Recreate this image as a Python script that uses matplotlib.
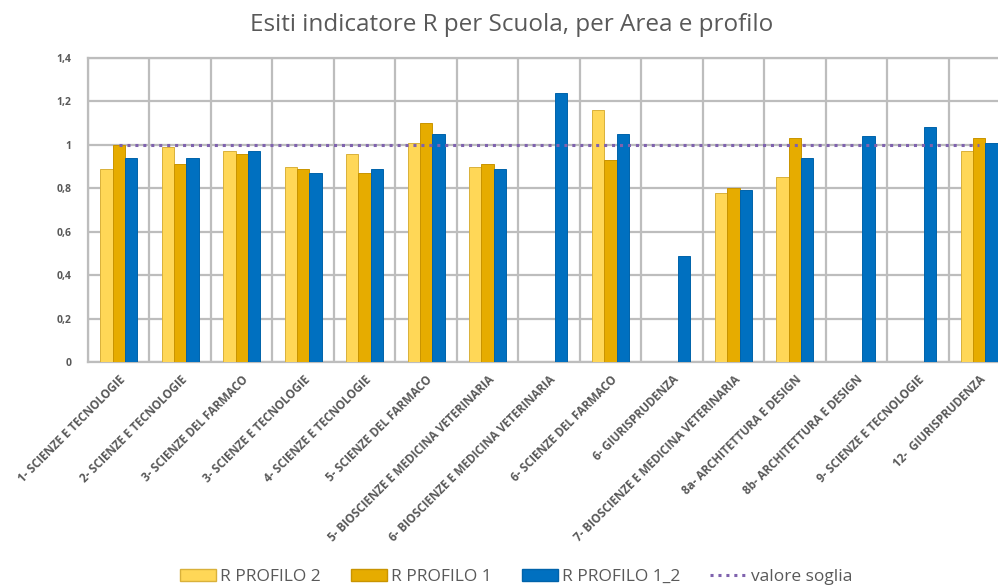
import numpy as np
import matplotlib
matplotlib.use("Agg")
import matplotlib.pyplot as plt
from matplotlib.lines import Line2D
from matplotlib.patches import Patch

categories = [
    "1- SCIENZE E TECNOLOGIE",
    "2- SCIENZE E TECNOLOGIE",
    "3- SCIENZE DEL FARMACO",
    "3- SCIENZE E TECNOLOGIE",
    "4- SCIENZE E TECNOLOGIE",
    "5- SCIENZE DEL FARMACO",
    "5- BIOSCIENZE E MEDICINA VETERINARIA",
    "6- BIOSCIENZE E MEDICINA VETERINARIA",
    "6- SCIENZE DEL FARMACO",
    "6- GIURISPRUDENZA",
    "7- BIOSCIENZE E MEDICINA VETERINARIA",
    "8a- ARCHITETTURA E DESIGN",
    "8b- ARCHITETTURA E DESIGN",
    "9- SCIENZE E TECNOLOGIE",
    "12-  GIURISPRUDENZA",
]
nan = np.nan
r_profilo_2 = [0.89, 0.99, 0.97, 0.90, 0.96, 1.01, 0.90, nan, 1.16, nan, 0.78, 0.85, nan, nan, 0.97]
r_profilo_1 = [1.00, 0.91, 0.96, 0.89, 0.87, 1.10, 0.91, nan, 0.93, nan, 0.80, 1.03, nan, nan, 1.03]
r_profilo_1_2 = [0.94, 0.94, 0.97, 0.87, 0.89, 1.05, 0.89, 1.24, 1.05, 0.49, 0.79, 0.94, 1.04, 1.08, 1.01]
valore_soglia = [1.0] * len(categories)
y_ticks = [0, 0.2, 0.4, 0.6, 0.8, 1.0, 1.2, 1.4]
y_tick_labels = ["0", "0,2", "0,4", "0,6", "0,8", "1", "1,2", "1,4"]

plt.rcParams['font.family'] = ['Open Sans', 'DejaVu Sans']
grey_txt = '#595959'

W, H = 998, 586
fig = plt.figure(figsize=(W / 100, H / 100), dpi=100)
ax = fig.add_axes([88 / W, (H - 362) / H, 922 / W, 304 / H])

x = np.arange(len(categories))
bw = 0.2
c2, c1, c12 = '#FFD757', '#E6AC00', '#0070C0'
ax.bar(x - bw, r_profilo_2, bw, color=c2, edgecolor='#D9B13A', linewidth=0.7, zorder=3)
ax.bar(x, r_profilo_1, bw, color=c1, edgecolor='#C99400', linewidth=0.7, zorder=3)
ax.bar(x + bw, r_profilo_1_2, bw, color=c12, edgecolor='#0063AA', linewidth=0.7, zorder=3)
ax.plot(x, valore_soglia, color='#7F62AE', linestyle=(0, (1, 1.6)), linewidth=2.2, zorder=4)

ax.set_xlim(-0.5, len(categories) - 0.5)
ax.set_ylim(0, 1.4)
ax.set_yticks(y_ticks)
ax.set_yticklabels(y_tick_labels, fontsize=7.5, fontweight='bold', color=grey_txt)
ax.set_xticks(x)
ax.set_xticklabels(categories, rotation=45, ha='right', rotation_mode='anchor',
                   fontsize=8.4, fontweight='bold', color=grey_txt)
ax.set_xticks(np.arange(-0.5, len(categories), 1.0), minor=True)
ax.tick_params(axis='both', which='both', length=0)
ax.tick_params(axis='x', which='major', pad=8)
ax.tick_params(axis='y', pad=12)
gc = '#BDBDBD'
ax.grid(which='minor', axis='x', color=gc, linewidth=1.6, zorder=0)
ax.grid(which='major', axis='y', color=gc, linewidth=1.6, zorder=0)
ax.grid(which='major', axis='x', visible=False)
for s in ax.spines.values():
    s.set_color(gc)
    s.set_linewidth(1.6)
ax.set_axisbelow(True)

fig.text(512 / W, 1 - 25 / H, "Esiti indicatore R per Scuola, per Area e profilo",
         ha='center', va='center', fontsize=17.5, color=grey_txt)

handles = [
    Patch(facecolor=c2, edgecolor='#D9B13A', label='R PROFILO 2'),
    Patch(facecolor=c1, edgecolor='#C99400', label='R PROFILO 1'),
    Patch(facecolor=c12, edgecolor='#0063AA', label='R PROFILO 1_2'),
    Line2D([0], [0], color='#7F62AE', linestyle=(0, (1, 1.6)), linewidth=2.2, label='valore soglia'),
]
leg = fig.legend(handles=handles, loc='center', bbox_to_anchor=(516 / W, 1 - 577 / H), ncol=4,
                 frameon=False, fontsize=12.5, handlelength=2.1, handleheight=0.7,
                 columnspacing=1.7, handletextpad=0.25, borderaxespad=0)
for t in leg.get_texts():
    t.set_color(grey_txt)

fig.savefig('out.png', dpi=100)
